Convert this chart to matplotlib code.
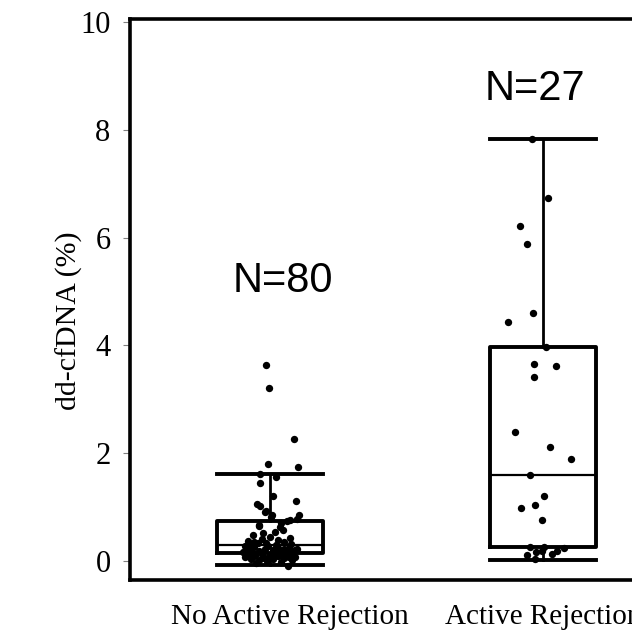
import matplotlib
matplotlib.use("Agg")
import matplotlib.pyplot as plt
import matplotlib.transforms as mtransforms

# groups
groups = ["No Active Rejection", "Active Rejection"]
counts = ["N=80", "N=27"]

# box stats (dd-cfDNA %)
q1 = [0.155, 0.26]
med = [0.30, 1.60]
q3 = [0.75, 3.97]
whislo = [-0.08, 0.02]
whishi = [1.61, 7.83]

# points, No Active Rejection
y_no = [3.64, 3.21, 2.27, 1.80, 1.75, 1.61, 1.55, 1.45, 1.21, 1.11,
        1.06, 1.02, 0.93, 0.91, 0.85, 0.85, 0.82, 0.78, 0.76, 0.74,
        0.70, 0.67, 0.65, 0.63, 0.57, 0.54, 0.52, 0.48, 0.45, 0.43,
        0.41, 0.39, 0.37, 0.36, 0.34, 0.33, 0.31, 0.30, 0.29, 0.28,
        0.27, 0.26, 0.25, 0.24, 0.23, 0.22, 0.21, 0.20, 0.20, 0.19,
        0.18, 0.17, 0.17, 0.16, 0.15, 0.15, 0.14, 0.13, 0.12, 0.11,
        0.10, 0.09, 0.08, 0.07, 0.06, 0.05, 0.04, 0.03, 0.02, 0.01,
        0.00, -0.02, -0.04, -0.09, 0.12, 0.10, 0.08, 0.05, 0.22, 0.35]
jit_no = [-0.015, -0.004, 0.088, -0.007, 0.103, -0.037, 0.022, -0.037, 0.011, 0.095,
          -0.048, -0.037, -0.015, -0.018, 0.007, 0.106, 0.004, 0.099, 0.073, 0.062,
          0.04, -0.04, -0.04, 0.037, 0.048, 0.018, -0.026, -0.062, 0.0, 0.073,
          -0.03, 0.029, -0.081, 0.051, -0.015, -0.044, 0.077, -0.073, 0.022, -0.007,
          -0.09, -0.06, 0.03, 0.07, -0.02, 0.05, -0.08, 0.01, 0.09, -0.04,
          0.06, -0.07, 0.02, -0.10, 0.04, -0.03, 0.08, -0.05, 0.0, 0.06,
          -0.06, 0.03, -0.09, 0.07, -0.02, 0.05, -0.07, 0.01, -0.04, 0.08,
          -0.01, 0.04, -0.05, 0.065, 0.02, -0.08, 0.09, -0.03, 0.10, -0.06]

# points, Active Rejection
y_ar = [7.83, 6.73, 6.21, 5.88, 4.60, 4.43, 3.97, 3.65, 3.62, 3.41,
        2.39, 2.12, 1.89, 1.60, 1.21, 0.98, 1.04, 0.76, 0.26, 0.26,
        0.25, 0.11, 0.17, 0.19, 0.13, 0.18, 0.04]
jit_ar = [-0.040, 0.018, -0.084, -0.059, -0.037, -0.128, 0.011, -0.033, 0.048, -0.033,
          -0.103, 0.026, 0.103, -0.048, 0.004, -0.081, -0.029, -0.004, -0.048, 0.004,
          0.077, -0.059, -0.026, -0.004, 0.033, 0.051, -0.029]

fig = plt.figure(figsize=(6.32, 6.34), dpi=100)
ax = fig.add_axes([130/632, 54/634, 570/632, 561/634])

stats = []
for i in range(2):
    stats.append({"q1": q1[i], "med": med[i], "q3": q3[i],
                  "whislo": whislo[i], "whishi": whishi[i], "fliers": []})
ax.bxp(stats, positions=[1, 2], widths=0.39, showfliers=False,
       boxprops=dict(color="black", linewidth=2.8),
       medianprops=dict(color="black", linewidth=1.6),
       whiskerprops=dict(color="black", linewidth=2.0),
       capprops=dict(color="black", linewidth=2.8),
       capwidths=0.39)

ax.scatter([1 + j for j in jit_no], y_no, s=28, color="black", zorder=3, linewidths=0)
ax.scatter([2 + j for j in jit_ar], y_ar, s=28, color="black", zorder=3, linewidths=0)

ax.text(1.047, 5.2, counts[0], ha="center", va="center", fontsize=30, family="Liberation Sans")
ax.text(1.97, 8.75, counts[1], ha="center", va="center", fontsize=30, family="Liberation Sans")

ax.set_xlim(0.487, 2.575)
ax.set_ylim(-0.352, 10.056)
ax.set_yticks([0, 2, 4, 6, 8, 10])
ax.set_xticks([1, 2])
ax.set_xticklabels(groups)
for lab in ax.get_yticklabels():
    lab.set_family("Liberation Serif")
    lab.set_fontsize(22)
for lab in ax.get_xticklabels():
    lab.set_family("Liberation Serif")
    lab.set_fontsize(21)
ax.tick_params(axis="y", length=5, width=0.8, color="gray", pad=9)
ax.tick_params(axis="x", length=0, pad=17)

# first x label sits a bit right of its box in the original
off = mtransforms.ScaledTranslation(20/100, 0, fig.dpi_scale_trans)
xl = ax.get_xticklabels()
xl[0].set_transform(xl[0].get_transform() + off)

ax.set_ylabel("dd-cfDNA (%)", family="Liberation Serif", fontsize=21.5)
ax.yaxis.set_label_coords(-0.083, 0.463)

for s in ax.spines.values():
    s.set_linewidth(2.6)
    s.set_color("black")

plt.savefig("out.png", dpi=100)
